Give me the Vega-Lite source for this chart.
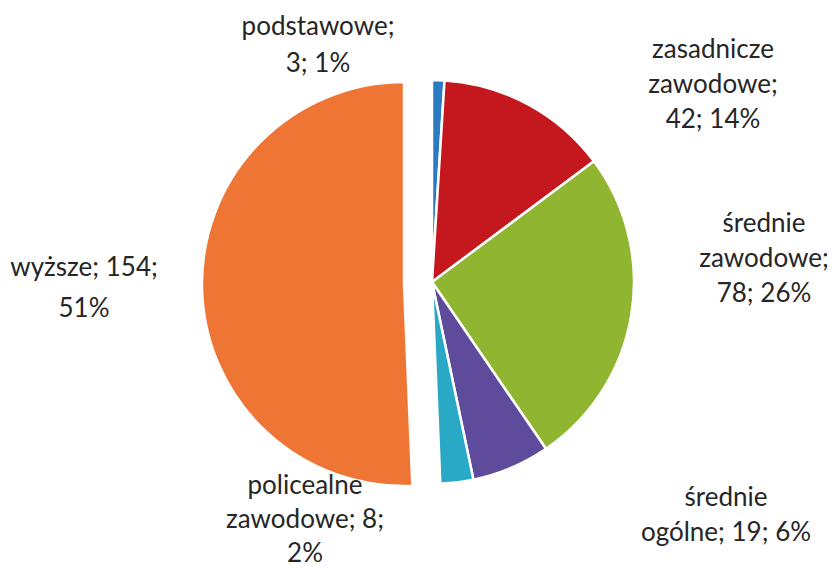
{
  "$schema": "https://vega.github.io/schema/vega-lite/v6.json",
  "width": 806,
  "height": 564,
  "autosize": "none",
  "padding": {"left": 29, "top": 0, "right": 0, "bottom": 4},
  "background": "white",
  "config": {"view": {"stroke": null}},
  "data": {
    "values": [
      {"category": "podstawowe", "value": 3, "label": "podstawowe;\n3; 1%", "order": 1},
      {"category": "zasadnicze zawodowe", "value": 42, "label": "zasadnicze\nzawodowe;\n42; 14%", "order": 2},
      {"category": "średnie zawodowe", "value": 78, "label": "średnie\nzawodowe;\n78; 26%", "order": 3},
      {"category": "średnie ogólne", "value": 19, "label": "średnie\nogólne; 19; 6%", "order": 4},
      {"category": "policealne zawodowe", "value": 8, "label": "policealne\nzawodowe; 8;\n2%", "order": 5},
      {"category": "wyższe", "value": 154, "label": "wyższe; 154;\n51%", "order": 6}
    ]
  },
  "layer": [
    {
      "mark": {"type": "arc", "outerRadius": 202, "stroke": "white", "strokeWidth": 2.5},
      "encoding": {
        "theta": {"field": "value", "type": "quantitative", "stack": true},
        "order": {"field": "order", "type": "quantitative"},
        "color": {
          "field": "category", "type": "nominal", "legend": null,
          "scale": {
            "domain": ["podstawowe", "zasadnicze zawodowe", "średnie zawodowe", "średnie ogólne", "policealne zawodowe", "wyższe"],
            "range": ["#2C7BC0", "#C5181E", "#8FB531", "#5F4B9B", "#29A9C6", "#EF7535"]
          }
        },
        "opacity": {"condition": {"test": "datum.category === 'wyższe'", "value": 0}, "value": 1}
      }
    },
    {
      "mark": {"type": "arc", "outerRadius": 202, "stroke": "white", "strokeWidth": 2.5, "xOffset": -28, "yOffset": 2},
      "encoding": {
        "theta": {"field": "value", "type": "quantitative", "stack": true},
        "order": {"field": "order", "type": "quantitative"},
        "color": {"field": "category", "type": "nominal", "legend": null},
        "opacity": {"condition": {"test": "datum.category === 'wyższe'", "value": 1}, "value": 0}
      }
    },
    {
      "transform": [{"filter": "datum.category === 'podstawowe'"}],
      "mark": {"type": "text", "dx": -114, "dy": -255, "font": "Lato", "fontSize": 26, "lineHeight": 37, "lineBreak": "\n", "align": "center", "baseline": "middle", "color": "#262626"},
      "encoding": {"text": {"field": "label", "type": "nominal"}}
    },
    {
      "transform": [{"filter": "datum.category === 'zasadnicze zawodowe'"}],
      "mark": {"type": "text", "dx": 281, "dy": -232, "font": "Lato", "fontSize": 26, "lineHeight": 35, "lineBreak": "\n", "align": "center", "baseline": "middle", "color": "#262626"},
      "encoding": {"text": {"field": "label", "type": "nominal"}}
    },
    {
      "transform": [{"filter": "datum.category === 'średnie zawodowe'"}],
      "mark": {"type": "text", "dx": 332, "dy": -58, "font": "Lato", "fontSize": 26, "lineHeight": 35, "lineBreak": "\n", "align": "center", "baseline": "middle", "color": "#262626"},
      "encoding": {"text": {"field": "label", "type": "nominal"}}
    },
    {
      "transform": [{"filter": "datum.category === 'średnie ogólne'"}],
      "mark": {"type": "text", "dx": 294, "dy": 216, "font": "Lato", "fontSize": 26, "lineHeight": 35, "lineBreak": "\n", "align": "center", "baseline": "middle", "color": "#262626"},
      "encoding": {"text": {"field": "label", "type": "nominal"}}
    },
    {
      "transform": [{"filter": "datum.category === 'policealne zawodowe'"}],
      "mark": {"type": "text", "dx": -127, "dy": 204, "font": "Lato", "fontSize": 26, "lineHeight": 34, "lineBreak": "\n", "align": "center", "baseline": "middle", "color": "#262626"},
      "encoding": {"text": {"field": "label", "type": "nominal"}}
    },
    {
      "transform": [{"filter": "datum.category === 'wyższe'"}],
      "mark": {"type": "text", "dx": -348, "dy": -14, "font": "Lato", "fontSize": 26, "lineHeight": 41, "lineBreak": "\n", "align": "center", "baseline": "middle", "color": "#262626"},
      "encoding": {"text": {"field": "label", "type": "nominal"}}
    }
  ]
}
